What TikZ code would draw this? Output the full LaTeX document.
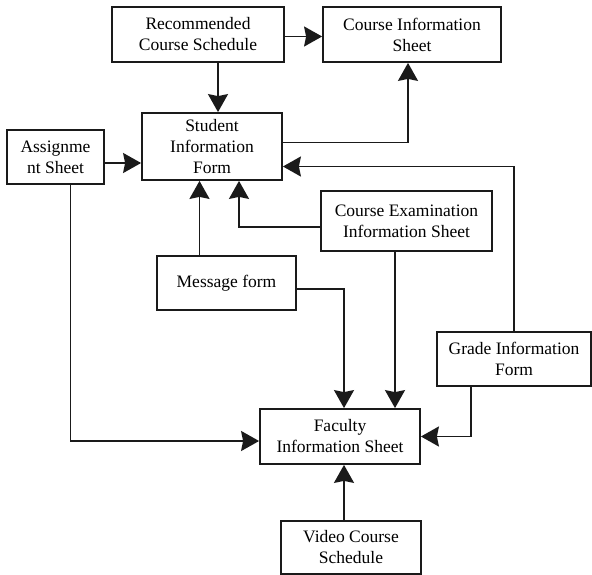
\documentclass[tikz,border=0pt]{standalone}
\usepackage{fontspec}
\setmainfont{Liberation Serif}
\usetikzlibrary{arrows.meta}
\definecolor{ink}{HTML}{1A1A1A}

\begin{document}
\begin{tikzpicture}[x=1pt,y=-1pt,>={Stealth[length=18pt,width=20pt,inset=2pt]},
 every node/.style={font=\fontsize{17.5}{21}\selectfont},
 form/.style={draw=ink,line width=1.8pt,align=center,inner sep=0pt},
 link/.style={draw=ink,line width=1.8pt,->}]
\useasboundingbox (0,0) rectangle (592,575);
\node[form,minimum width=172pt,minimum height=55pt] (rec) at (198,34.5) {Recommended\\Course Schedule};
\node[form,minimum width=178pt,minimum height=55pt] (cis) at (412,34.5) {Course Information\\Sheet};
\node[form,minimum width=140pt,minimum height=67pt] (sif) at (212,146.5) {Student\\Information\\Form};
\node[form,minimum width=97pt,minimum height=54pt] (asg) at (55.5,157) {Assignme\\nt Sheet};
\node[form,minimum width=171pt,minimum height=60pt] (cei) at (406.5,221) {Course Examination\\Information Sheet};
\node[form,minimum width=139pt,minimum height=54pt] (msg) at (226.5,283) {Message form};
\node[form,minimum width=154pt,minimum height=54pt] (gif) at (514,359) {Grade Information\\Form};
\node[form,minimum width=160pt,minimum height=55pt] (fis) at (340,436.5) {Faculty\\Information Sheet};
\node[form,minimum width=140pt,minimum height=53pt] (vcs) at (351,547.5) {Video Course\\Schedule};
% into student form
\draw[link] ([yshift=-2pt]rec.east) -- ([yshift=-2pt]cis.west);
\draw[link] ([xshift=20pt]rec.south) -- ([xshift=20pt]rec.south |- sif.north);
\draw[link] ([yshift=4pt]sif.east) -| ([xshift=-4pt]cis.south);
\draw[link] (gif.north) |- ([yshift=-20pt]sif.east);
\draw[link] ([yshift=-6pt]asg.east) -- ([yshift=-6pt]asg.east -| sif.west);
\draw[link] ([xshift=-27pt]msg.north) -- ([xshift=-27pt]msg.north |- sif.south);
\draw[link] ([yshift=-6pt]cei.west) -| ([xshift=27pt]sif.south);
% into faculty sheet
\draw[link] ([yshift=-6pt]msg.east) -| ([xshift=4pt]fis.north);
\draw[link] ([xshift=55pt]fis.north |- cei.south) -- ([xshift=55pt]fis.north);
\draw[link] ([xshift=15pt]asg.south) |- ([yshift=-4.5pt]fis.west);
\draw[link] ([xshift=-43pt]gif.south) |- (fis.east);
\draw[link] ([xshift=-7pt]vcs.north) -- ([xshift=-7pt]vcs.north |- fis.south);
\end{tikzpicture}
\end{document}
